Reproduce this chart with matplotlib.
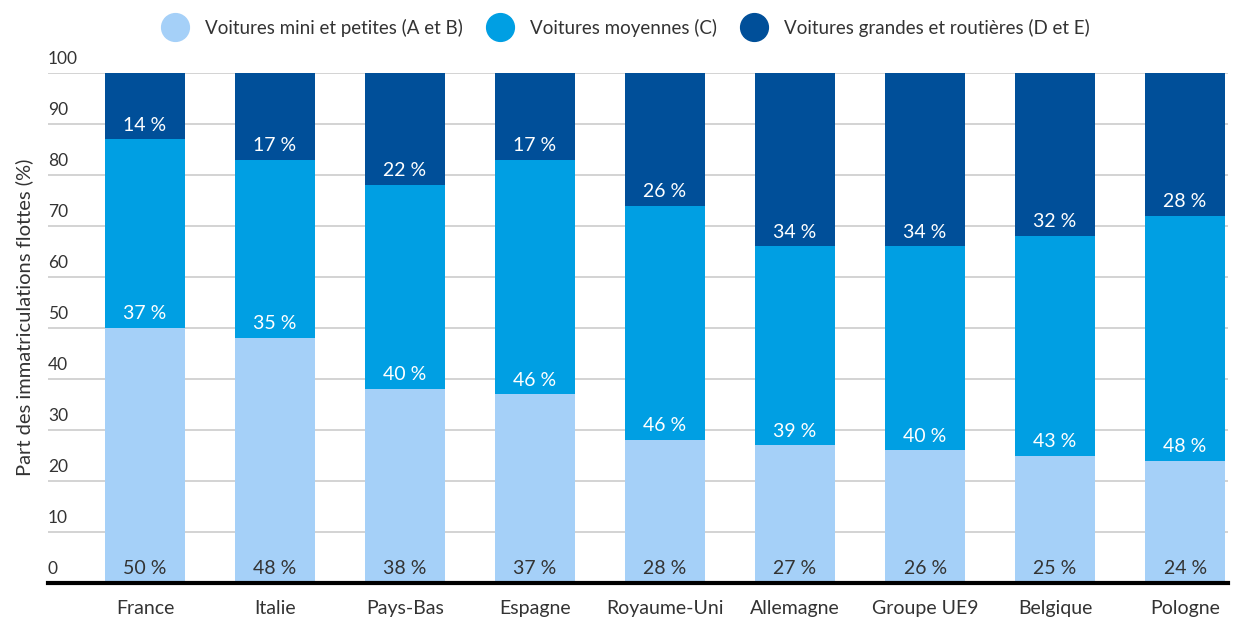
import matplotlib
matplotlib.use("Agg")
import matplotlib.pyplot as plt
import numpy as np
from matplotlib.lines import Line2D

plt.rcParams["font.family"] = ["Lato", "DejaVu Sans"]

# Fleet registration shares by car segment (%)
countries = ["France", "Italie", "Pays-Bas", "Espagne", "Royaume-Uni",
             "Allemagne", "Groupe UE9", "Belgique", "Pologne"]
small = [50, 48, 38, 37, 28, 27, 26, 25, 24]
medium = [37, 35, 40, 46, 46, 39, 40, 43, 48]
large = [14, 17, 22, 17, 26, 34, 34, 32, 28]

series_names = ["Voitures mini et petites (A et B)",
                "Voitures moyennes (C)",
                "Voitures grandes et routières (D et E)"]
colors = ["#A5D0F8", "#009FE3", "#004F99"]
text_colors = ["#333333", "white", "white"]
yticks = [0, 10, 20, 30, 40, 50, 60, 70, 80, 90, 100]

W, H = 1243, 617
fig = plt.figure(figsize=(W / 100, H / 100), dpi=100)
ax = fig.add_axes([48 / W, 1 - 583 / H, (1228 - 48) / W, (583 - 73) / H])

x = np.arange(len(countries))
bottom = np.zeros(len(countries))
for vals, col, tcol in zip([small, medium, large], colors, text_colors):
    vals = np.array(vals, dtype=float)
    ax.bar(x, vals, bottom=bottom, width=0.615, color=col, zorder=2)
    for xi, b, v in zip(x, bottom, vals):
        ax.text(xi, b + 2.8, f"{v:.0f} %", ha="center", va="center",
                color=tcol, fontsize=14, zorder=3)
    bottom += vals

ax.set_xlim(-0.746, 8.33)
ax.set_ylim(0, 100)

# gridlines with labels sitting just above them
for t in yticks:
    ax.axhline(t, color="#CCCCCC", lw=1.2, zorder=1)
    ax.text(0, t + 1.2, str(t), transform=ax.get_yaxis_transform(),
            ha="left", va="bottom", fontsize=12.5, color="#333333")

ax.set_yticks([])
ax.set_xticks(x)
ax.set_xticklabels(countries, fontsize=14, color="#333333")
ax.tick_params(axis="x", length=0, pad=12)
for s in ["left", "right", "top"]:
    ax.spines[s].set_visible(False)
ax.spines["bottom"].set_linewidth(3)
ax.spines["bottom"].set_color("black")
ax.spines["bottom"].set_zorder(4)

fig.text(24 / W, 1 - 317 / H, "Part des immatriculations flottes (%)",
         rotation=90, ha="center", va="center", fontsize=14.5, color="#333333")

handles = [Line2D([], [], marker="o", linestyle="none", markersize=20,
                  markerfacecolor=c, markeredgecolor=c) for c in colors]
fig.legend(handles, series_names, loc="center", bbox_to_anchor=(623 / W, 1 - 28 / H),
           ncol=3, frameon=False, fontsize=13.5, handletextpad=0.6,
           columnspacing=1.0, labelcolor="#333333")

fig.savefig("out.png", dpi=100)
